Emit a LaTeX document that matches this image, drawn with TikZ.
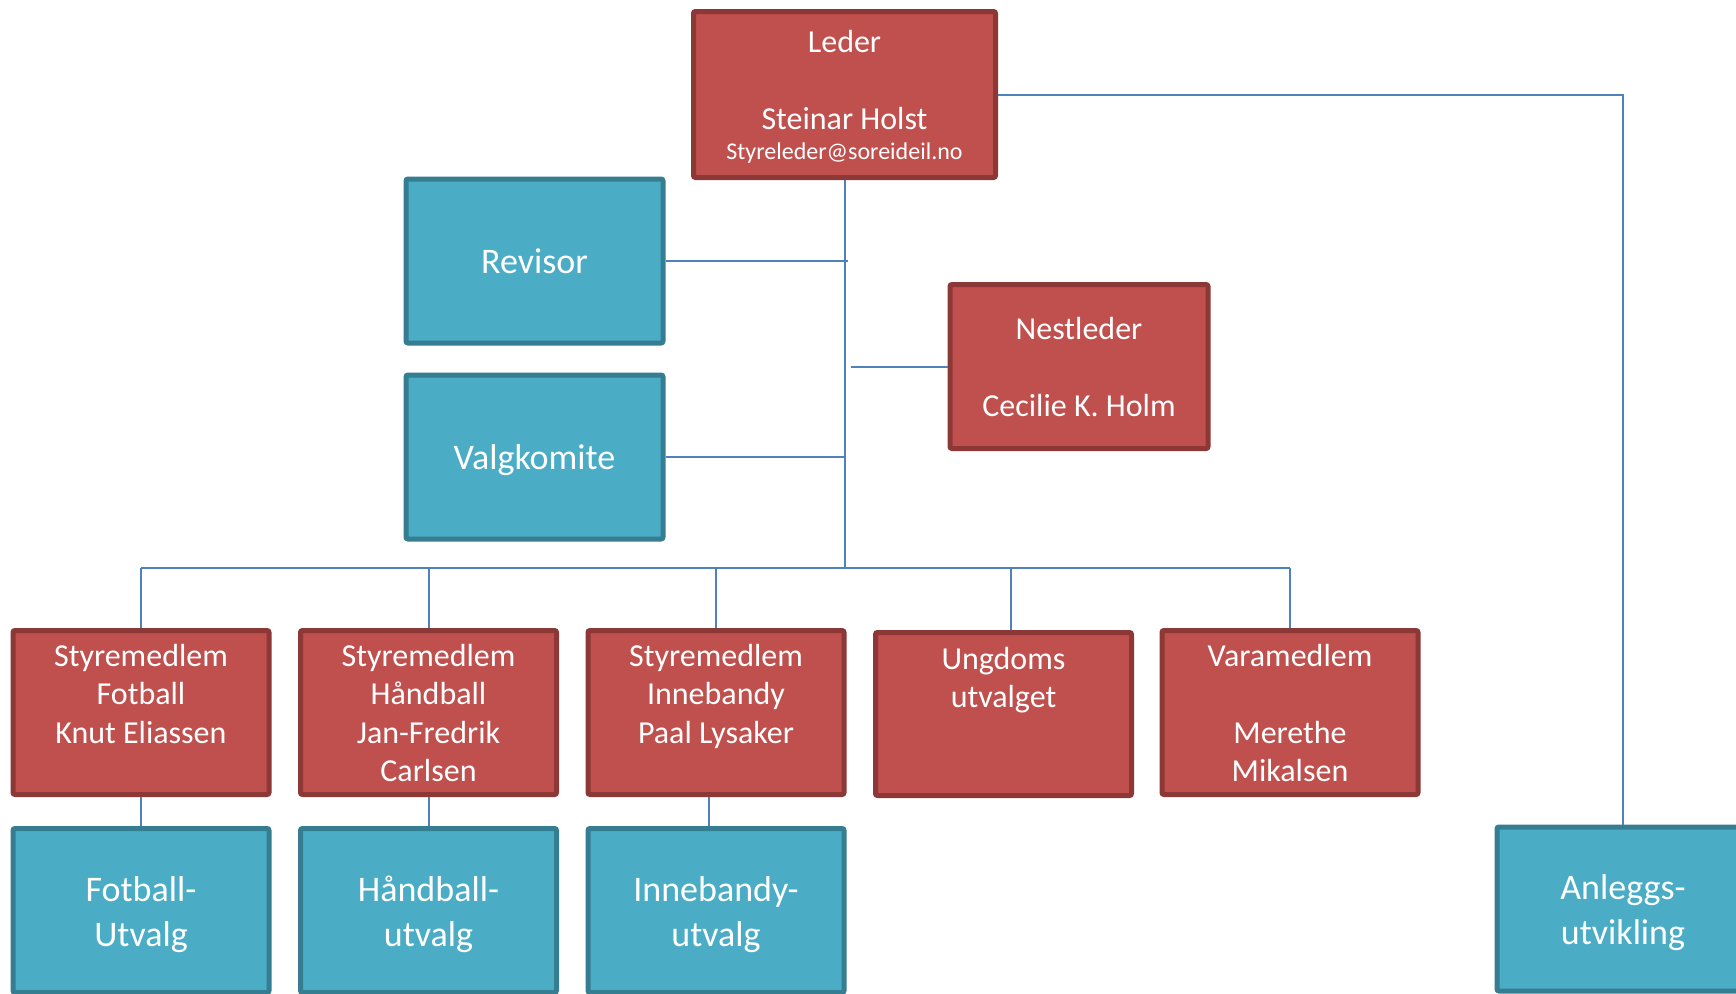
\documentclass[tikz,border=0pt]{standalone}
\usepackage{fontspec}
\setmainfont{Carlito}
\usetikzlibrary{calc}
\definecolor{redfill}{HTML}{C0504D}
\definecolor{redline}{HTML}{8C3836}
\definecolor{bluefill}{HTML}{4BACC6}
\definecolor{blueline}{HTML}{357D91}
\definecolor{conn}{HTML}{4F81BD}
\tikzset{
  redbox/.style={draw=redline, fill=redfill, line width=2.5pt, inner sep=0pt, rounded corners=1pt},
  bluebox/.style={draw=blueline, fill=bluefill, line width=2.5pt, inner sep=0pt, rounded corners=1pt},
  rtxt/.style={text=white, inner sep=0pt, anchor=base, font=\fontsize{16}{19}\selectfont},
  stxt/.style={text=white, inner sep=0pt, anchor=base, font=\fontsize{12}{14}\selectfont},
  btxt/.style={text=white, inner sep=0pt, anchor=base, font=\fontsize{18}{22}\selectfont},
  link/.style={draw=conn, line width=1pt}
}
\begin{document}
\begin{tikzpicture}[x=0.5pt, y=-0.5pt]
\useasboundingbox (0,0) rectangle (1736,993);
\clip (0,0) rectangle (1736,993);
% boxes
\node[redbox, minimum width=151pt, minimum height=83pt] (lead) at (844.5,94.5) {};
\node[bluebox, minimum width=128.5pt, minimum height=82pt] (rev) at (534.5,261) {};
\node[bluebox, minimum width=128.5pt, minimum height=82pt] (val) at (534.5,457) {};
\node[redbox, minimum width=129pt, minimum height=82pt] (nest) at (1079,366.5) {};
\node[redbox, minimum width=128pt, minimum height=82pt] (sf) at (141,712.5) {};
\node[redbox, minimum width=128pt, minimum height=82pt] (sh) at (428.5,712.5) {};
\node[redbox, minimum width=128pt, minimum height=82pt] (si) at (716,712.5) {};
\node[redbox, minimum width=128pt, minimum height=81.5pt] (ung) at (1003.5,714) {};
\node[redbox, minimum width=128pt, minimum height=82pt] (vm) at (1290,712.5) {};
\node[bluebox, minimum width=128pt, minimum height=82pt] (fu) at (141,910.5) {};
\node[bluebox, minimum width=128pt, minimum height=82pt] (hu) at (428.5,910.5) {};
\node[bluebox, minimum width=128pt, minimum height=82pt] (iu) at (716,910.5) {};
\node[bluebox, minimum width=126pt, minimum height=82pt] (anl) at (1623,909) {};
% texts
\node[rtxt] (tlead1) at (844.5,52) {Leder};
\node[rtxt] (tlead2) at (844.5,129) {Steinar Holst};
\node[stxt] (tlead3) at (844.5,159) {Styreleder@soreideil.no};
\node[btxt] (trev) at (534.5,273) {Revisor};
\node[btxt] (tval) at (534.5,469) {Valgkomite};
\node[rtxt] (tnest1) at (1079,339) {Nestleder};
\node[rtxt] (tnest2) at (1079,416) {Cecilie K. Holm};
\node[rtxt] (tsf1) at (141,666) {Styremedlem};
\node[rtxt] (tsf2) at (141,704.5) {Fotball};
\node[rtxt] (tsf3) at (141,743) {Knut Eliassen};
\node[rtxt] (tsh1) at (428.5,666) {Styremedlem};
\node[rtxt] (tsh2) at (428.5,704.5) {Håndball};
\node[rtxt] (tsh3) at (428.5,743) {Jan-Fredrik};
\node[rtxt] (tsh4) at (428.5,781.5) {Carlsen};
\node[rtxt] (tsi1) at (716,666) {Styremedlem};
\node[rtxt] (tsi2) at (716,704.5) {Innebandy};
\node[rtxt] (tsi3) at (716,743) {Paal Lysaker};
\node[rtxt] (tung1) at (1003.5,669) {Ungdoms};
\node[rtxt] (tung2) at (1003.5,707.5) {utvalget};
\node[rtxt] (tvm1) at (1290,666) {Varamedlem};
\node[rtxt] (tvm2) at (1290,743) {Merethe};
\node[rtxt] (tvm3) at (1290,781.5) {Mikalsen};
\node[btxt] (tfu1) at (141,901) {Fotball-};
\node[btxt] (tfu2) at (141,946) {Utvalg};
\node[btxt] (thu1) at (428.5,901) {Håndball-};
\node[btxt] (thu2) at (428.5,946) {utvalg};
\node[btxt] (tiu1) at (716,901) {Innebandy-};
\node[btxt] (tiu2) at (716,946) {utvalg};
\node[btxt] (tanl1) at (1623,899) {Anleggs-};
\node[btxt] (tanl2) at (1623,944) {utvikling};
% connectors
\coordinate (bus) at (844.5,568);
\draw[link] (lead.south) -- (bus);
\draw[link] (rev.east) -- ($(rev.east -| lead.south)+(3,0)$);
\draw[link] (val.east) -- (val.east -| lead.south);
\draw[link] (nest.west) -- ($(nest.west -| lead.south)+(6,0)$);
\draw[link] (sf.north |- bus) -- (vm.north |- bus);
\draw[link] (sf.north) -- (sf.north |- bus);
\draw[link] (sh.north) -- (sh.north |- bus);
\draw[link] (si.north) -- (si.north |- bus);
\draw[link] ($(ung.north)+(7,0)$) -- ($(ung.north |- bus)+(7,0)$);
\draw[link] (vm.north) -- (vm.north |- bus);
\draw[link] (sf.south) -- (fu.north);
\draw[link] (sh.south) -- (hu.north);
\draw[link] ($(si.south)+(-7,0)$) -- ($(iu.north)+(-7,0)$);
\draw[link] (lead.east) -| (anl.north);
\end{tikzpicture}
\end{document}
